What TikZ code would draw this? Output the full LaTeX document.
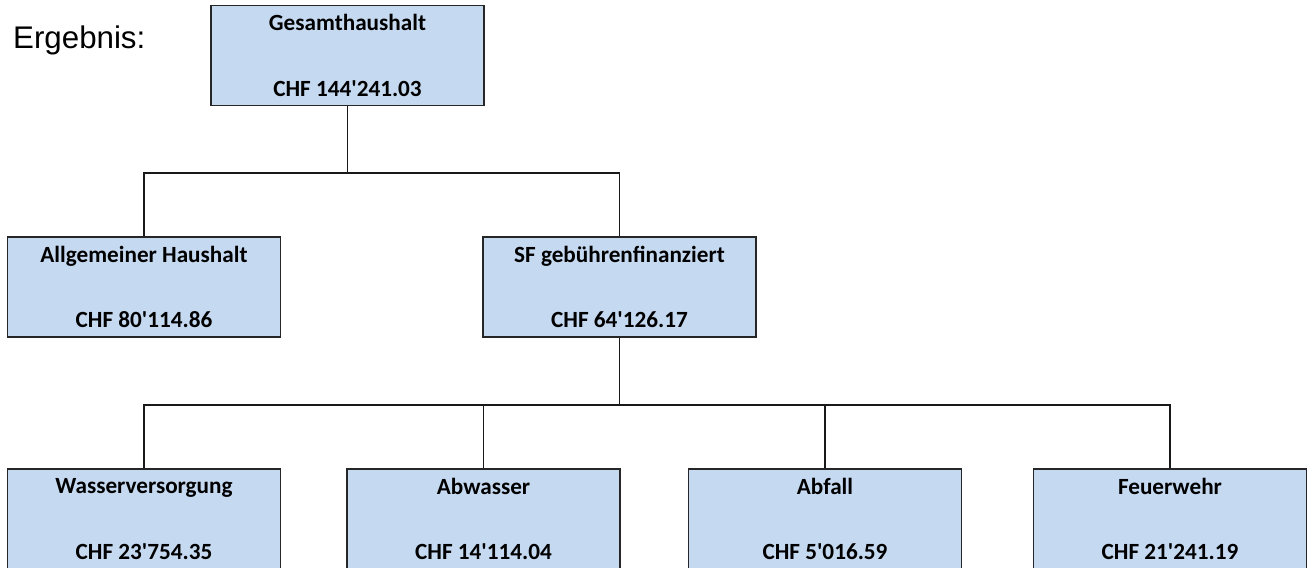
\documentclass[tikz,border=0pt]{standalone}
\usepackage{fontspec}
\setmainfont{Carlito}
\newfontfamily\headfont{Liberation Sans}
\usepackage{tikz}
\usetikzlibrary{positioning,calc}
\definecolor{boxblue}{HTML}{C5D9F1}
\tikzstyle{unit} = [rectangle,draw=black!85,line width=0.9pt,fill=boxblue,minimum width=5.46cm,minimum height=2cm,inner sep=0pt,align=center,font=\fontsize{13.2}{16}\selectfont\bfseries]
\tikzstyle{link} = [line width=0.8pt,black!90]
\newcommand{\amount}[2]{#1\\[21.4pt]#2}
\newcommand{\q}{\textquotesingle}

\begin{document}
\begin{tikzpicture}[x=0.02cm,y=-0.02cm]
    \useasboundingbox (0,0) rectangle (1309,568);
    \node [anchor=west,font=\headfont\fontsize{17.8}{20}\selectfont] (title) at (7,40) {Ergebnis:};
    \node [unit] (total) at (347.5,55.5) {\amount{Gesamthaushalt}{CHF 144\q241.03}};
    \node [unit] (general) at (144,287) {\amount{Allgemeiner Haushalt}{CHF 80\q114.86}};
    \node [unit] (fees) at (619.5,287) {\amount{SF gebührenfinanziert}{CHF 64\q126.17}};
    \node [unit] (water) at (144,519) {\amount{Wasserversorgung}{CHF 23\q754.35}};
    \node [unit] (sewage) at (483.5,519) {\amount{Abwasser}{CHF 14\q114.04}};
    \node [unit] (waste) at (825,519) {\amount{Abfall}{CHF 5\q016.59}};
    \node [unit] (fire) at (1170,519) {\amount{Feuerwehr}{CHF 21\q241.19}};
    \coordinate (bus1) at (347.5,173);
    \coordinate (bus2) at (619.5,405);
    \draw [link] (total) -- (bus1);
    \draw [link] (bus1) -| (general);
    \draw [link] (bus1) -| (fees);
    \draw [link] (fees) -- (bus2);
    \foreach \leaf in {water,sewage,waste,fire}
      \draw [link] (bus2) -| (\leaf);
  \end{tikzpicture}
\end{document}
